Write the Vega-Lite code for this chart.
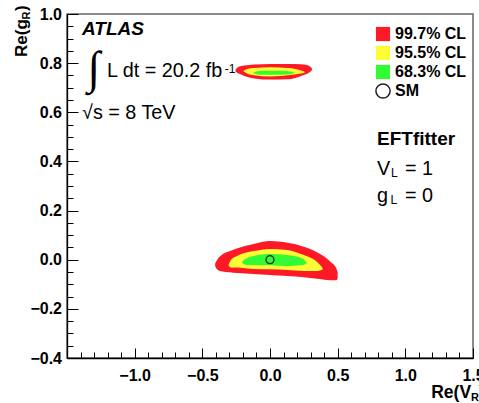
{
  "$schema": "https://vega.github.io/schema/vega-lite/v6.json",
  "width": 406,
  "height": 344,
  "autosize": {"type": "none"},
  "padding": {"left": 67, "top": 14, "right": 6, "bottom": 45},
  "background": "white",
  "config": {
    "view": {"stroke": "#666666", "strokeWidth": 1.5},
    "font": "Liberation Sans",
    "axis": {
      "grid": false,
      "domainColor": "black",
      "domainWidth": 1.3,
      "tickColor": "black",
      "tickWidth": 1,
      "labelFont": "Liberation Sans",
      "labelFontWeight": "bold",
      "labelFontSize": 16,
      "labelColor": "black",
      "title": null
    }
  },
  "resolve": {"axis": {"x": "independent", "y": "independent"}},
  "datasets": {
    "contours": [
      {"cl": "99.7% CL", "blob": "low", "x": -0.405, "y": -0.015, "y2": -0.027},
      {"cl": "99.7% CL", "blob": "low", "x": -0.39, "y": 0.0, "y2": -0.04},
      {"cl": "99.7% CL", "blob": "low", "x": -0.36, "y": 0.018, "y2": -0.047},
      {"cl": "99.7% CL", "blob": "low", "x": -0.30, "y": 0.034, "y2": -0.051},
      {"cl": "99.7% CL", "blob": "low", "x": -0.24, "y": 0.047, "y2": -0.054},
      {"cl": "99.7% CL", "blob": "low", "x": -0.12, "y": 0.064, "y2": -0.058},
      {"cl": "99.7% CL", "blob": "low", "x": 0.0, "y": 0.076, "y2": -0.062},
      {"cl": "99.7% CL", "blob": "low", "x": 0.13, "y": 0.069, "y2": -0.066},
      {"cl": "99.7% CL", "blob": "low", "x": 0.25, "y": 0.053, "y2": -0.071},
      {"cl": "99.7% CL", "blob": "low", "x": 0.38, "y": 0.02, "y2": -0.08},
      {"cl": "99.7% CL", "blob": "low", "x": 0.45, "y": -0.01, "y2": -0.084},
      {"cl": "99.7% CL", "blob": "low", "x": 0.485, "y": -0.03, "y2": -0.084},
      {"cl": "99.7% CL", "blob": "low", "x": 0.5, "y": -0.05, "y2": -0.077},
      {"cl": "95.5% CL", "blob": "low", "x": -0.305, "y": -0.018, "y2": -0.026},
      {"cl": "95.5% CL", "blob": "low", "x": -0.29, "y": -0.002, "y2": -0.032},
      {"cl": "95.5% CL", "blob": "low", "x": -0.244, "y": 0.015, "y2": -0.032},
      {"cl": "95.5% CL", "blob": "low", "x": -0.12, "y": 0.035, "y2": -0.038},
      {"cl": "95.5% CL", "blob": "low", "x": 0.0, "y": 0.044, "y2": -0.039},
      {"cl": "95.5% CL", "blob": "low", "x": 0.126, "y": 0.04, "y2": -0.042},
      {"cl": "95.5% CL", "blob": "low", "x": 0.25, "y": 0.019, "y2": -0.046},
      {"cl": "95.5% CL", "blob": "low", "x": 0.35, "y": -0.01, "y2": -0.046},
      {"cl": "95.5% CL", "blob": "low", "x": 0.38, "y": -0.028, "y2": -0.042},
      {"cl": "95.5% CL", "blob": "low", "x": 0.39, "y": -0.036, "y2": -0.04},
      {"cl": "68.3% CL", "blob": "low", "x": -0.205, "y": -0.006, "y2": -0.014},
      {"cl": "68.3% CL", "blob": "low", "x": -0.18, "y": 0.004, "y2": -0.02},
      {"cl": "68.3% CL", "blob": "low", "x": -0.12, "y": 0.015, "y2": -0.022},
      {"cl": "68.3% CL", "blob": "low", "x": 0.0, "y": 0.023, "y2": -0.023},
      {"cl": "68.3% CL", "blob": "low", "x": 0.126, "y": 0.019, "y2": -0.026},
      {"cl": "68.3% CL", "blob": "low", "x": 0.23, "y": 0.007, "y2": -0.023},
      {"cl": "68.3% CL", "blob": "low", "x": 0.26, "y": -0.004, "y2": -0.018},
      {"cl": "68.3% CL", "blob": "low", "x": 0.27, "y": -0.01, "y2": -0.014},
      {"cl": "99.7% CL", "blob": "high", "x": -0.255, "y": 0.772, "y2": 0.766},
      {"cl": "99.7% CL", "blob": "high", "x": -0.24, "y": 0.782, "y2": 0.76},
      {"cl": "99.7% CL", "blob": "high", "x": -0.214, "y": 0.788, "y2": 0.754},
      {"cl": "99.7% CL", "blob": "high", "x": -0.19, "y": 0.79, "y2": 0.748},
      {"cl": "99.7% CL", "blob": "high", "x": -0.118, "y": 0.794, "y2": 0.738},
      {"cl": "99.7% CL", "blob": "high", "x": 0.007, "y": 0.797, "y2": 0.733},
      {"cl": "99.7% CL", "blob": "high", "x": 0.133, "y": 0.797, "y2": 0.734},
      {"cl": "99.7% CL", "blob": "high", "x": 0.23, "y": 0.795, "y2": 0.748},
      {"cl": "99.7% CL", "blob": "high", "x": 0.27, "y": 0.792, "y2": 0.756},
      {"cl": "99.7% CL", "blob": "high", "x": 0.30, "y": 0.784, "y2": 0.766},
      {"cl": "99.7% CL", "blob": "high", "x": 0.31, "y": 0.778, "y2": 0.772},
      {"cl": "95.5% CL", "blob": "high", "x": -0.195, "y": 0.77, "y2": 0.766},
      {"cl": "95.5% CL", "blob": "high", "x": -0.17, "y": 0.776, "y2": 0.758},
      {"cl": "95.5% CL", "blob": "high", "x": -0.118, "y": 0.78, "y2": 0.751},
      {"cl": "95.5% CL", "blob": "high", "x": 0.007, "y": 0.783, "y2": 0.746},
      {"cl": "95.5% CL", "blob": "high", "x": 0.133, "y": 0.78, "y2": 0.751},
      {"cl": "95.5% CL", "blob": "high", "x": 0.229, "y": 0.77, "y2": 0.758},
      {"cl": "95.5% CL", "blob": "high", "x": 0.255, "y": 0.765, "y2": 0.761},
      {"cl": "68.3% CL", "blob": "high", "x": -0.12, "y": 0.762, "y2": 0.758},
      {"cl": "68.3% CL", "blob": "high", "x": -0.09, "y": 0.767, "y2": 0.754},
      {"cl": "68.3% CL", "blob": "high", "x": -0.044, "y": 0.769, "y2": 0.753},
      {"cl": "68.3% CL", "blob": "high", "x": 0.081, "y": 0.769, "y2": 0.753},
      {"cl": "68.3% CL", "blob": "high", "x": 0.15, "y": 0.766, "y2": 0.755},
      {"cl": "68.3% CL", "blob": "high", "x": 0.18, "y": 0.761, "y2": 0.759}
    ],
    "sm": [{"cl": "SM", "x": 0.0, "y": 0.0}]
  },
  "layer": [
    {
      "data": {"name": "contours"},
      "transform": [{"filter": "datum.cl == '99.7% CL'"}],
      "mark": {"type": "area", "interpolate": "monotone", "orient": "vertical"},
      "encoding": {
        "x": {"field": "x", "type": "quantitative", "scale": {"domain": [-1.5, 1.5], "nice": false, "zero": false},
          "axis": {
            "orient": "bottom",
            "offset": -10,
            "domain": false,
            "values": [-1.5, -1.0, -0.5, 0.0, 0.5, 1.0, 1.5],
            "tickSize": 10,
            "labelExpr": "datum.value > -1.4 ? format(datum.value, '.1f') : ''",
            "labelPadding": 9,
            "labelFlush": false,
            "labelOverlap": false
          }},
        "y": {"field": "y", "type": "quantitative", "scale": {"domain": [-0.4, 1.0], "nice": false, "zero": false},
          "axis": {
            "orient": "left",
            "offset": -11,
            "domain": false,
            "values": [-0.4, -0.2, 0.0, 0.2, 0.4, 0.6, 0.8, 1.0],
            "tickSize": 11,
            "format": ".1f",
            "labelPadding": 5.5,
            "labelFlush": false,
            "labelOverlap": false
          }},
        "y2": {"field": "y2"},
        "detail": {"field": "blob"},
        "fill": {"field": "cl", "type": "nominal",
          "scale": {"domain": ["99.7% CL", "95.5% CL", "68.3% CL", "SM"], "range": ["#fd1a26", "#fdfd36", "#33fb33", "white"]},
          "legend": {"orient": "none", "legendX": 308, "legendY": 12, "title": null,
            "labelFont": "Liberation Sans", "labelFontWeight": "bold", "labelFontSize": 16, "labelColor": "black",
            "symbolSize": 200, "symbolStrokeWidth": 1.5, "symbolOpacity": 1, "rowPadding": -3, "labelOffset": 4}}
      }
    },
    {
      "data": {"name": "contours"},
      "transform": [{"filter": "datum.cl == '95.5% CL'"}],
      "mark": {"type": "area", "interpolate": "monotone", "orient": "vertical"},
      "encoding": {
        "x": {"field": "x", "type": "quantitative", "axis": null},
        "y": {"field": "y", "type": "quantitative", "axis": null},
        "y2": {"field": "y2"},
        "detail": {"field": "blob"},
        "fill": {"field": "cl", "type": "nominal"}
      }
    },
    {
      "data": {"name": "contours"},
      "transform": [{"filter": "datum.cl == '68.3% CL'"}],
      "mark": {"type": "area", "interpolate": "monotone", "orient": "vertical"},
      "encoding": {
        "x": {"field": "x", "type": "quantitative", "axis": null},
        "y": {"field": "y", "type": "quantitative", "axis": null},
        "y2": {"field": "y2"},
        "detail": {"field": "blob"},
        "fill": {"field": "cl", "type": "nominal"}
      }
    },
    {
      "data": {"name": "sm"},
      "mark": {"type": "point", "size": 64, "strokeWidth": 1.2, "opacity": 1},
      "encoding": {
        "x": {"field": "x", "type": "quantitative",
          "axis": {
            "orient": "bottom",
            "offset": -6,
            "values": [-1.4, -1.3, -1.2, -1.1, -0.9, -0.8, -0.7, -0.6, -0.4, -0.3, -0.2, -0.1, 0.1, 0.2, 0.3, 0.4, 0.6, 0.7, 0.8, 0.9, 1.1, 1.2, 1.3, 1.4],
            "tickSize": 6, "labels": false, "domain": false
          }},
        "y": {"field": "y", "type": "quantitative",
          "axis": {
            "orient": "left",
            "offset": -6,
            "values": [-0.35, -0.3, -0.25, -0.15, -0.1, -0.05, 0.05, 0.1, 0.15, 0.25, 0.3, 0.35, 0.45, 0.5, 0.55, 0.65, 0.7, 0.75, 0.85, 0.9, 0.95],
            "tickSize": 6, "labels": false, "domain": false
          }},
        "fill": {"field": "cl", "type": "nominal"},
        "fillOpacity": {"value": 0},
        "shape": {"field": "cl", "type": "nominal", "scale": {"domain": ["99.7% CL", "95.5% CL", "68.3% CL", "SM"], "range": ["square", "square", "square", "circle"]}},
        "stroke": {"field": "cl", "type": "nominal", "scale": {"domain": ["99.7% CL", "95.5% CL", "68.3% CL", "SM"], "range": ["transparent", "transparent", "transparent", "#222222"]}}
      }
    },
    {
      "data": {"values": [{"x": -1.389, "y": 0.915, "t": "ATLAS"}]},
      "mark": {"type": "text", "align": "left", "baseline": "alphabetic", "font": "Liberation Sans", "fontSize": 19, "fontWeight": "bold", "fontStyle": "italic", "color": "black"},
      "encoding": {
        "x": {"field": "x", "type": "quantitative", "axis": {"orient": "bottom", "ticks": false, "labels": false, "domain": true}},
        "y": {"field": "y", "type": "quantitative", "axis": {"orient": "left", "ticks": false, "labels": false, "domain": true}},
        "text": {"field": "t"}}
    },
    {
      "data": {"values": [{"x": -1.205, "y": 0.744, "t": "L dt = 20.2 fb"}, {"x": -1.389, "y": 0.573, "t": "√s = 8 TeV"}, {"x": 0.791, "y": 0.345, "t": "V"}, {"x": 0.998, "y": 0.345, "t": "= 1"}, {"x": 0.791, "y": 0.234, "t": "g"}, {"x": 0.998, "y": 0.234, "t": "= 0"}]},
      "mark": {"type": "text", "align": "left", "baseline": "alphabetic", "font": "Liberation Sans", "fontSize": 19.8, "color": "black"},
      "encoding": {"x": {"field": "x", "type": "quantitative", "axis": null}, "y": {"field": "y", "type": "quantitative", "axis": null}, "text": {"field": "t"}}
    },
    {
      "data": {"values": [{"x": -1.348, "y": 0.719, "t": "∫"}]},
      "mark": {"type": "text", "align": "left", "baseline": "alphabetic", "font": "Liberation Serif", "fontSize": 46, "fontWeight": "normal", "color": "black"},
      "encoding": {"x": {"field": "x", "type": "quantitative", "axis": null}, "y": {"field": "y", "type": "quantitative", "axis": null}, "text": {"field": "t"}}
    },
    {
      "data": {"values": [{"x": -0.335, "y": 0.76, "t": "-1"}, {"x": 0.895, "y": 0.336, "t": "L"}, {"x": 0.89, "y": 0.225, "t": "L"}]},
      "mark": {"type": "text", "align": "left", "baseline": "alphabetic", "font": "Liberation Sans", "fontSize": 12, "color": "black"},
      "encoding": {"x": {"field": "x", "type": "quantitative", "axis": null}, "y": {"field": "y", "type": "quantitative", "axis": null}, "text": {"field": "t"}}
    },
    {
      "data": {"values": [{"x": 0.791, "y": 0.467, "t": "EFTfitter"}]},
      "mark": {"type": "text", "align": "left", "baseline": "alphabetic", "font": "Liberation Sans", "fontSize": 19, "fontWeight": "bold", "color": "black"},
      "encoding": {"x": {"field": "x", "type": "quantitative", "axis": null}, "y": {"field": "y", "type": "quantitative", "axis": null}, "text": {"field": "t"}}
    },
    {
      "data": {"values": [{"x": 1.486, "y": -0.563, "t": "Re(V"}]},
      "mark": {"type": "text", "align": "right", "baseline": "alphabetic", "font": "Liberation Sans", "fontSize": 17.5, "fontWeight": "bold", "color": "black"},
      "encoding": {"x": {"field": "x", "type": "quantitative", "axis": null}, "y": {"field": "y", "type": "quantitative", "axis": null}, "text": {"field": "t"}}
    },
    {
      "data": {"values": [{"x": 1.486, "y": -0.575, "t": "R"}]},
      "mark": {"type": "text", "align": "left", "baseline": "alphabetic", "font": "Liberation Sans", "fontSize": 11, "fontWeight": "bold", "color": "black"},
      "encoding": {"x": {"field": "x", "type": "quantitative", "axis": null}, "y": {"field": "y", "type": "quantitative", "axis": null}, "text": {"field": "t"}}
    },
    {
      "data": {"values": [{"x": 1.541, "y": -0.563, "t": ")"}]},
      "mark": {"type": "text", "align": "left", "baseline": "alphabetic", "font": "Liberation Sans", "fontSize": 17.5, "fontWeight": "bold", "color": "black"},
      "encoding": {"x": {"field": "x", "type": "quantitative", "axis": null}, "y": {"field": "y", "type": "quantitative", "axis": null}, "text": {"field": "t"}}
    },
    {
      "data": {"values": [{"x": -1.796, "y": 0.825, "t": "Re(g"}, {"x": -1.796, "y": 1.012, "t": ")"}]},
      "mark": {"type": "text", "align": "left", "baseline": "alphabetic", "angle": 270, "font": "Liberation Sans", "fontSize": 17, "fontWeight": "bold", "color": "black"},
      "encoding": {"x": {"field": "x", "type": "quantitative", "axis": null}, "y": {"field": "y", "type": "quantitative", "axis": null}, "text": {"field": "t"}}
    },
    {
      "data": {"values": [{"x": -1.774, "y": 0.978, "t": "R"}]},
      "mark": {"type": "text", "align": "left", "baseline": "alphabetic", "angle": 270, "font": "Liberation Sans", "fontSize": 11, "fontWeight": "bold", "color": "black"},
      "encoding": {"x": {"field": "x", "type": "quantitative", "axis": null}, "y": {"field": "y", "type": "quantitative", "axis": null}, "text": {"field": "t"}}
    }
  ]
}
